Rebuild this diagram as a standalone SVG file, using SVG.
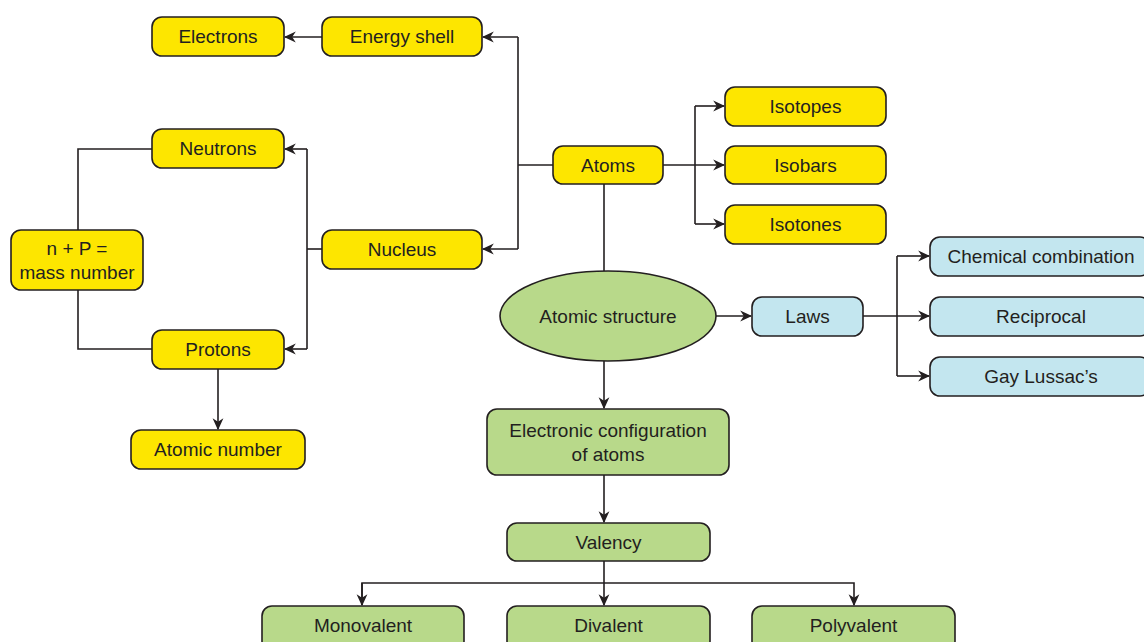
<svg xmlns="http://www.w3.org/2000/svg" width="1144" height="642" viewBox="0 0 1144 642">
<defs>
<style>
.y{fill:#fde600;stroke:#231f20;stroke-width:1.6}
.g{fill:#b8d98a;stroke:#231f20;stroke-width:1.6}
.b{fill:#c3e6ef;stroke:#231f20;stroke-width:1.6}
text{font-family:"Liberation Sans",Arial,sans-serif;font-size:19px;fill:#231f20;text-anchor:middle;dominant-baseline:central}
.c path{fill:none;stroke:#231f20;stroke-width:1.6}
</style>
<marker id="a" viewBox="0 0 10 10" refX="9" refY="5" markerWidth="12" markerHeight="12" markerUnits="userSpaceOnUse" orient="auto">
<path d="M0,0.5 L10,5 L0,9.5 L3,5 Z" fill="#231f20"/>
</marker>
</defs>
<rect width="1144" height="642" fill="#fff"/>
<g class="c">
<path d="M322,37 H285" marker-end="url(#a)"/>
<path d="M553,165 H518"/>
<path d="M518,37 V249"/>
<path d="M518,37 H483" marker-end="url(#a)"/>
<path d="M518,249 H483" marker-end="url(#a)"/>
<path d="M322,249 H307"/>
<path d="M307,149 V349"/>
<path d="M307,149 H285" marker-end="url(#a)"/>
<path d="M307,349 H285" marker-end="url(#a)"/>
<path d="M152,149 H78 V230"/>
<path d="M78,290 V349 H152"/>
<path d="M218,369 V429" marker-end="url(#a)"/>
<path d="M663,165 H724" marker-end="url(#a)"/>
<path d="M695,106 V224"/>
<path d="M695,106 H724" marker-end="url(#a)"/>
<path d="M695,224 H724" marker-end="url(#a)"/>
<path d="M604,184 V271"/>
<path d="M716,316 H751" marker-end="url(#a)"/>
<path d="M863,316 H929" marker-end="url(#a)"/>
<path d="M897,256 V376"/>
<path d="M897,256 H929" marker-end="url(#a)"/>
<path d="M897,376 H929" marker-end="url(#a)"/>
<path d="M604,361 V408" marker-end="url(#a)"/>
<path d="M604,475 V522" marker-end="url(#a)"/>
<path d="M604,561 V605" marker-end="url(#a)"/>
<path d="M362,605 V583 H854 V605" marker-end="url(#a)"/>
<path d="M362,583 V605" marker-end="url(#a)"/>
</g>
<g id="electrons"><rect class="y" x="152" y="17" width="132" height="39" rx="10"/><text x="218" y="36.5">Electrons</text></g>
<g id="energy-shell"><rect class="y" x="322" y="17" width="160" height="39" rx="10"/><text x="402" y="36.5">Energy shell</text></g>
<g id="neutrons"><rect class="y" x="152" y="129" width="132" height="39" rx="10"/><text x="218" y="148.5">Neutrons</text></g>
<g id="nucleus"><rect class="y" x="322" y="230" width="160" height="39" rx="10"/><text x="402" y="249.5">Nucleus</text></g>
<g id="protons"><rect class="y" x="152" y="330" width="132" height="39" rx="10"/><text x="218" y="349.5">Protons</text></g>
<g id="mass-number"><rect class="y" x="11" y="230" width="132" height="60" rx="10"/><text x="77" y="248">n + P =</text><text x="77" y="272">mass number</text></g>
<g id="atomic-number"><rect class="y" x="131" y="430" width="174" height="39" rx="10"/><text x="218" y="449.5">Atomic number</text></g>
<g id="atoms"><rect class="y" x="553" y="146" width="110" height="38" rx="10"/><text x="608" y="165">Atoms</text></g>
<g id="isotopes"><rect class="y" x="725" y="87" width="161" height="39" rx="10"/><text x="805.5" y="106.5">Isotopes</text></g>
<g id="isobars"><rect class="y" x="725" y="146" width="161" height="38" rx="10"/><text x="805.5" y="165">Isobars</text></g>
<g id="isotones"><rect class="y" x="725" y="205" width="161" height="39" rx="10"/><text x="805.5" y="224.5">Isotones</text></g>
<g id="atomic-structure"><ellipse class="g" cx="608" cy="316" rx="108" ry="45"/><text x="608" y="316">Atomic structure</text></g>
<g id="laws"><rect class="b" x="752" y="297" width="111" height="39" rx="10"/><text x="807.5" y="316.5">Laws</text></g>
<g id="chemical-combination"><rect class="b" x="930" y="237" width="220" height="39" rx="10"/><text x="1041" y="256.5">Chemical combination</text></g>
<g id="reciprocal"><rect class="b" x="930" y="297" width="220" height="39" rx="10"/><text x="1041" y="316.5">Reciprocal</text></g>
<g id="gay-lussac"><rect class="b" x="930" y="357" width="220" height="39" rx="10"/><text x="1041" y="376.5">Gay Lussac’s</text></g>
<g id="electronic-configuration"><rect class="g" x="487" y="409" width="242" height="66" rx="10"/><text x="608" y="430">Electronic configuration</text><text x="608" y="454">of atoms</text></g>
<g id="valency"><rect class="g" x="507" y="523" width="203" height="38" rx="10"/><text x="608.5" y="542">Valency</text></g>
<g id="monovalent"><rect class="g" x="262" y="606" width="202" height="45" rx="10"/><text x="363" y="625.5">Monovalent</text></g>
<g id="divalent"><rect class="g" x="507" y="606" width="203" height="45" rx="10"/><text x="608.5" y="625.5">Divalent</text></g>
<g id="polyvalent"><rect class="g" x="752" y="606" width="203" height="45" rx="10"/><text x="853.5" y="625.5">Polyvalent</text></g>
</svg>
